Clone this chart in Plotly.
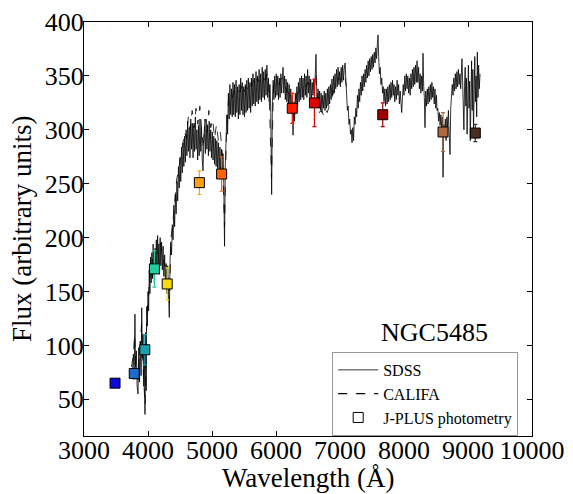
import plotly.graph_objects as go

# ---------------- data ----------------
sdss_wave = [3760,3772,3784,3796,3806,3818,3830,3844,3856,3868,3880,3892,3902,3912,3922,3932,3942,3953,3963,3972,3980,3990,
4000,4010,4020,4030,4040,4050,4060,4070,4080,4090,4100,4110,4120,4130,4140,4150,4160,4170,4180,4190,4200,4212,4224,4236,4248,
4260,4272,4284,4296,4308,4320,4333,4345,4356,4368,4380,4392,4404,4416,4428,4440,4452,4464,4476,4488,4500,4512,4524,4536,4548,
4560,4572,4584,4596,4608,4620,4632,4644,4656,4668,4680,4692,4704,4716,4728,4740,4752,4764,4776,4788,4800,4812,4824,4836,4848,
4860,4872,4884,4896,4908,4920,4932,4944,4956,4968,4980,4992,5004,5016,5028,5040,5052,5064,5076,5088,5100,5112,5124,5136,5148,
5160,5172,5184,5196,5208,5220,5232,5244,5256,5268,5280,5292,5304,5316,5328,5340,5352,5364,5376,5388,5400,5412,5424,5436,5448,
5460,5472,5484,5496,5508,5520,5532,5544,5556,5568,5580,5592,5604,5616,5628,5640,5652,5664,5676,5688,5700,5712,5724,5736,5748,
5760,5772,5784,5796,5808,5820,5832,5844,5858,5870,5882,5894,5906,5918,5932,5944,5956,5968,5980,5992,6004,6016,6028,6040,6052,
6064,6076,6088,6100,6110,6122,6134,6146,6158,6170,6182,6194,6206,6218,6230,6242,6254,6266,6278,6290,6302,6314,6326,6338,6350,
6362,6374,6386,6398,6410,6422,6434,6446,6458,6470,6482,6494,6506,6518,6530,6542,6554,6566,6578,6590,6604,6616,6625,6634,6646,
6658,6670,6682,6694,6706,6718,6730,6742,6754,6766,6778,6790,6802,6814,6826,6838,6850,6862,6874,6886,6898,6910,6922,6934,6946,
6958,6970,6982,6994,7006,7018,7030,7042,7054,7066,7080,7092,7104,7116,7128,7140,7152,7164,7176,7188,7200,7212,7224,7236,7248,
7260,7272,7284,7296,7308,7320,7332,7344,7356,7368,7380,7392,7404,7416,7428,7440,7452,7464,7476,7488,7500,7512,7524,7536,7548,
7560,7572,7584,7594,7604,7616,7628,7640,7652,7664,7676,7688,7700,7712,7724,7736,7748,7760,7772,7784,7796,7808,7820,7832,7844,
7856,7868,7880,7892,7904,7916,7928,7940,7952,7964,7976,7988,8000,8012,8024,8036,8048,8060,8072,8084,8096,8108,8120,8132,8144,
8156,8168,8180,8192,8204,8216,8228,8240,8252,8264,8276,8288,8297,8308,8318,8328,8340,8352,8364,8376,8388,8400,8412,8424,8436,
8448,8460,8472,8484,8496,8508,8516,8528,8540,8552,8564,8576,8588,8600,8610,8622,8634,8646,8658,8670,8682,8694,8706,8719,8730,
8742,8754,8766,8778,8790,8802,8814,8826,8838,8850,8862,8874,8886,8896,8906,8916,8926,8936,8946,8956,8966,8976,8986,8996,9006,
9016,9026,9036,9046,9056,9066,9076,9086,9096,9106,9116,9126,9136,9146,9156,9166,9176,9188]
sdss_flux = [78,92,70,129,75,95,62,55,98,66,104,72,135,88,110,62,96,36,112,58,136,118,
150,132,170,148,182,158,186,162,194,168,158,190,170,198,172,202,176,194,166,200,174,196,170,192,164,
184,158,176,148,174,152,126,180,196,184,212,198,230,210,240,222,252,234,266,246,274,252,284,260,288,
266,294,270,300,276,308,280,302,274,310,282,306,274,304,280,312,282,300,272,304,276,310,280,302,272,
262,292,304,278,310,282,304,276,308,280,300,274,298,272,294,268,292,266,290,264,288,262,284,258,282,
256,278,250,192,268,292,314,296,334,310,342,314,338,312,344,314,342,312,346,316,340,310,342,314,348,
318,344,314,340,312,342,316,346,318,348,320,344,316,348,322,352,324,348,322,354,326,350,324,356,328,
352,326,358,330,354,328,356,332,360,330,348,326,342,316,240,326,346,328,350,330,352,332,350,328,348,
330,352,334,354,358,334,350,328,347,326,344,324,342,320,338,316,332,295,326,308,334,318,340,322,344,
326,348,328,350,330,348,328,352,332,350,330,356,334,350,330,347,328,344,332,347,336,352,370,340,326,
338,320,336,318,334,316,332,320,336,318,334,320,338,322,340,324,342,328,347,332,350,334,352,338,356,
340,358,342,354,340,358,344,360,346,356,362,346,332,318,322,305,310,296,300,288,302,290,312,305,320,
312,332,320,338,326,344,332,350,336,352,340,356,344,360,348,364,350,366,354,368,356,370,358,372,362,
376,366,380,388,368,352,358,342,348,334,340,326,338,322,338,324,340,326,342,328,344,330,346,332,342,
326,340,328,346,332,342,324,336,320,316,330,342,332,350,336,352,338,350,334,348,332,352,338,356,340,
358,342,360,344,364,344,358,338,352,334,350,336,371,340,330,302,336,322,338,324,340,326,342,328,344,
330,340,324,338,320,332,318,320,308,316,304,314,302,312,256,305,296,310,290,312,302,318,296,277,320,
330,342,332,348,336,352,338,354,340,356,342,352,338,354,366,346,330,300,340,358,322,348,296,338,360,
320,345,290,352,364,318,356,300,342,368,326,350,312,372,330,360,338,352]

califa_wave = [3740,3770,3790,3810,3840,3870,3900,3930,3955,3980,4010,4040,4070,4100,4130,4160,4190,4220,4250,4280,4310,4335,
4360,4390,4420,4450,4480,4510,4540,4570,4600,4630,4660,4690,4720,4750,4780,4810,4840,4865,4890,4920,4950,4980,5010,5040,5070,
5100,5130,5160,5195,5225,5260,5290,5320,5350,5380,5410,5440,5470,5500,5530,5560,5590,5620,5650,5680,5710,5740,5770,5800,5830,
5860,5890,5930,5960,5990,6020,6050,6080,6110,6140,6170,6200,6230,6260,6290,6320,6350,6380,6410,6440,6470,6500,6530,6560,6590,
6625,6650,6680,6710,6740,6770,6800,6830,6860,6890,6920,6950,6980,7010,7040,7070,7100]
califa_flux = [80,90,110,78,68,92,120,70,45,125,150,172,180,168,190,185,195,185,178,170,165,140,
200,215,232,255,262,278,285,298,292,312,300,318,302,320,305,322,300,282,310,298,318,302,310,292,305,
290,298,280,210,295,330,335,330,338,334,336,335,342,335,340,338,344,340,346,342,348,344,346,350,346,
352,340,255,340,344,346,342,348,346,340,336,334,330,310,322,332,335,338,340,342,340,344,340,338,336,
352,322,316,318,314,320,316,322,328,335,340,345,348,346,350,352,340]

jplus_wave = [3485, 3785, 3950, 4100, 4300, 4803, 5150, 6254, 6600, 7668, 8610, 9114]
jplus_flux = [65, 74, 96, 171, 157, 251, 259, 320, 325, 314, 298, 297]
jplus_err = [3, 5, 14, 17, 15, 11, 16, 14, 22, 11, 18, 8]
jplus_colors = ["#0a0adc", "#1a6ad0", "#1aa0b0", "#20d0a0", "#f8dc10", "#ffa010",
                "#ff6400", "#ff1a00", "#e00000", "#a00000", "#b06a40", "#4a2f1e"]

x_ticks = [3000, 4000, 5000, 6000, 7000, 8000, 9000, 10000]
y_ticks = [50, 100, 150, 200, 250, 300, 350, 400]

FONT = "Liberation Serif, 'Times New Roman', Times, serif"

fig = go.Figure()

fig.add_trace(go.Scatter(x=califa_wave, y=califa_flux, mode="lines", name="CALIFA",
                         line=dict(color="black", width=0.8, dash="dash"), showlegend=False))
fig.add_trace(go.Scatter(x=sdss_wave, y=sdss_flux, mode="lines", name="SDSS",
                         line=dict(color="black", width=0.8)))
fig.add_trace(go.Scatter(x=[None], y=[None], mode="lines", name="CALIFA",
                         line=dict(color="black", width=1.2, dash="dash")))

for w, f, e, c in zip(jplus_wave, jplus_flux, jplus_err, jplus_colors):
    fig.add_trace(go.Scatter(x=[w], y=[f], mode="markers", showlegend=False,
                             marker=dict(symbol="square", size=10, color=c,
                                         line=dict(color="black", width=1)),
                             error_y=dict(type="data", array=[e], color=c,
                                          thickness=1.2, width=2)))

fig.add_trace(go.Scatter(x=[None], y=[None], mode="markers", name="J-PLUS photometry",
                         marker=dict(symbol="square-open", size=10, color="black",
                                     line=dict(color="black", width=1))))

fig.add_annotation(x=8470, y=112, xref="x", yref="y", text="NGC5485", showarrow=False,
                   font=dict(family=FONT, size=26, color="black"))

# axis titles as annotations for exact placement
fig.add_annotation(x=0.5, y=0, xref="paper", yref="paper", yshift=-42,
                   xanchor="center", yanchor="middle", showarrow=False,
                   text="Wavelength (Å)", font=dict(family=FONT, size=27, color="black"))
fig.add_annotation(x=0, y=0.5, xref="paper", yref="paper", xshift=-62,
                   xanchor="center", yanchor="middle", showarrow=False, textangle=-90,
                   text="Flux (arbitrary units)", font=dict(family=FONT, size=27, color="black"))

axis_common = dict(showline=True, linecolor="black", linewidth=1, mirror="ticks",
                   ticks="inside", ticklen=5, tickcolor="black", tickwidth=1,
                   showgrid=False, zeroline=False, automargin=False,
                   tickfont=dict(family=FONT, size=26, color="black"))

fig.update_layout(
    width=565, height=486,
    margin=dict(l=76, r=41, t=14, b=58),
    paper_bgcolor="white", plot_bgcolor="white",
    xaxis=dict(range=[3000, 10000], tickvals=x_ticks, ticktext=[str(v) for v in x_ticks],
               ticklabelstandoff=-9, **axis_common),
    yaxis=dict(range=[16, 400], tickvals=y_ticks, ticktext=[str(v) for v in y_ticks],
               ticklabelstandoff=-6, **axis_common),
    legend=dict(x=0.554, y=0.203, xanchor="left", yanchor="top",
                bgcolor="white", bordercolor="#999999", borderwidth=1,
                font=dict(family=FONT, size=16, color="black"),
                tracegroupgap=0, itemwidth=40),
    showlegend=True,
)

fig.write_html("out.html")
